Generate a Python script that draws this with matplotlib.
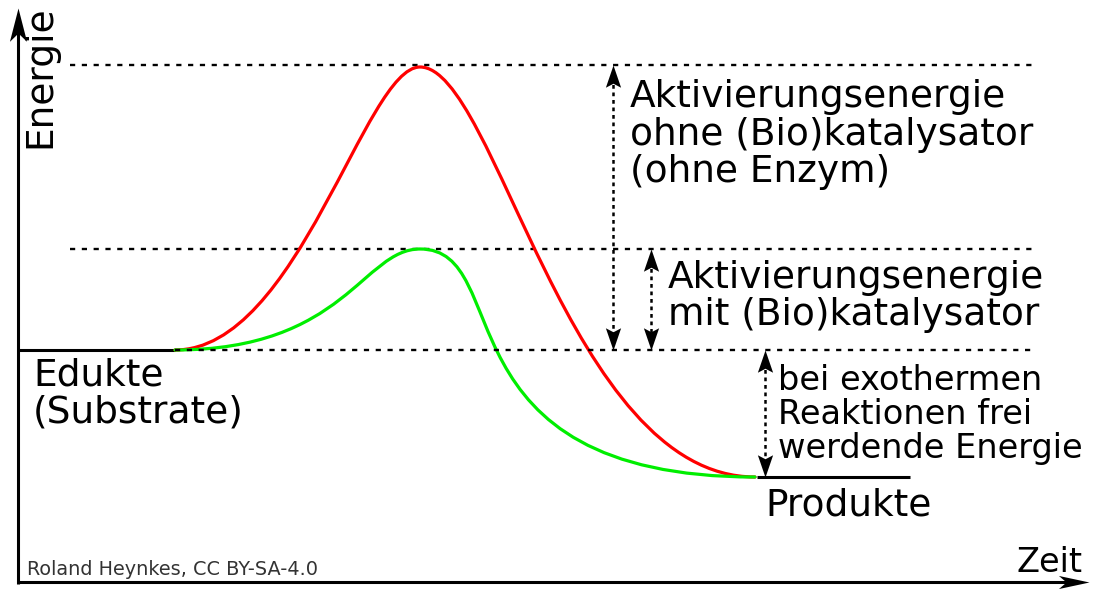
import matplotlib
matplotlib.use("Agg")
import matplotlib.pyplot as plt
from matplotlib.path import Path
from matplotlib.patches import PathPatch

# ---------------- data (diagram units, y grows downward like the picture) ----------------
E_EDUKTE = 350        # energy level of educts
E_TS_OHNE = 65        # transition state without catalyst
E_TS_MIT = 249        # transition state with catalyst
E_PRODUKTE = 477      # energy level of products

# reaction curves as cubic Bezier control points (start, c1, c2, peak, c1, c2, end)
red_x = [175, 298, 365, 420, 496, 568, 755]
red_y = [350, 350, 67, 67, 67, 477, 477]
green_x = [175, 345, 363, 420, 517, 433, 755]
green_y = [350, 350, 249, 249, 249, 477, 477]

# texts
label_ohne = ["Aktivierungsenergie", "ohne (Bio)katalysator", "(ohne Enzym)"]
label_mit = ["Aktivierungsenergie", "mit (Bio)katalysator"]
label_frei = ["bei exothermen", "Reaktionen frei", "werdende Energie"]
label_edukte = ["Edukte", "(Substrate)"]
label_produkte = "Produkte"
axis_y_label = "Energie"
axis_x_label = "Zeit"
credit = "Roland Heynkes, CC BY-SA-4.0"

# ---------------- figure ----------------
plt.rcParams['font.family'] = ['DejaVu Sans']
fig = plt.figure(figsize=(10.96, 5.89), dpi=100)
ax = fig.add_axes([0, 0, 1, 1])
ax.set_xlim(0, 1096)
ax.set_ylim(589, 0)
ax.axis('off')

BIG = 27.0
MID = 24.2


def head_path(direction, half_w, notch):
    # tip at (0,0), body behind; concave back (stealth style)
    pts = [(0, 0), (-half_w, -1.4), (0, -notch), (half_w, -1.4), (0, 0)]
    if direction == 'down':
        pts = [(x, -y) for x, y in pts]
    elif direction == 'right':
        pts = [(y, x) for x, y in pts]
    return Path(pts, [Path.MOVETO, Path.LINETO, Path.LINETO, Path.LINETO, Path.CLOSEPOLY])


dot_up = head_path('up', 0.48, 1.15)
dot_down = head_path('down', 0.48, 1.15)
ax_up = head_path('up', 0.36, 1.05)
ax_right = head_path('right', 0.30, 1.05)

# axes
X_AXIS_Y = 582
Y_AXIS_X = 18
ax.plot([Y_AXIS_X, Y_AXIS_X], [X_AXIS_Y + 1.5, 24], color='black', lw=2.2, solid_capstyle='butt')
ax.plot([Y_AXIS_X - 1.5, 1072], [X_AXIS_Y, X_AXIS_Y], color='black', lw=2.2, solid_capstyle='butt')
ax.plot([Y_AXIS_X], [8], marker=ax_up, markersize=48, color='black', mew=0, ls='none')
ax.plot([1089], [X_AXIS_Y], marker=ax_right, markersize=44, color='black', mew=0, ls='none')

# dotted level lines
DOT = dict(color='black', lw=1.7, dashes=(2.2, 2.8))
ax.plot([70, 1038], [E_TS_OHNE, E_TS_OHNE], **DOT)
ax.plot([70, 1038], [E_TS_MIT, E_TS_MIT], **DOT)
ax.plot([red_x[0], 1035], [E_EDUKTE, E_EDUKTE], zorder=4, **DOT)

# solid levels
ax.plot([Y_AXIS_X, red_x[0]], [E_EDUKTE, E_EDUKTE], color='black', lw=2.2, solid_capstyle='butt')
ax.plot([red_x[-1] + 2, 910], [E_PRODUKTE, E_PRODUKTE], color='black', lw=2.2, solid_capstyle='butt')

# curves
codes = [Path.MOVETO] + [Path.CURVE4] * 6
for xs, ys, col in [(red_x, red_y, '#ff0000'), (green_x, green_y, '#00ee00')]:
    p = Path(list(zip(xs, ys)), codes)
    ax.add_patch(PathPatch(p, fill=False, edgecolor=col, lw=2.3, capstyle='round', zorder=3))


# double arrows (dotted shaft, solid heads)
def double_arrow(x, y_top, y_bot):
    ax.plot([x, x], [y_top + 12, y_bot - 12], color='black', lw=1.8, dashes=(1.5, 1.5), zorder=4)
    ax.plot([x], [y_top], marker=dot_up, markersize=32, color='black', mew=0, ls='none', zorder=5)
    ax.plot([x], [y_bot], marker=dot_down, markersize=32, color='black', mew=0, ls='none', zorder=5)


double_arrow(613, E_TS_OHNE, E_EDUKTE)
double_arrow(651, E_TS_MIT, E_EDUKTE)
double_arrow(765, E_EDUKTE, E_PRODUKTE)


# texts (one line each, placed on its baseline)
def lines(x, baselines, texts, size):
    for b, t in zip(baselines, texts):
        ax.text(x, b, t, fontsize=size, ha='left', va='baseline', color='black')


lines(630, [107, 145, 182], label_ohne, BIG)
lines(668, [288, 325], label_mit, BIG)
lines(778, [390, 424, 458], label_frei, MID)
lines(33, [385, 422], label_edukte, BIG)
ax.text(765, 515, label_produkte, fontsize=BIG, ha='left', va='baseline')
ax.text(1017, 572, axis_x_label, fontsize=MID, ha='left', va='baseline')
ax.text(50, 148, axis_y_label, fontsize=BIG, rotation=90, rotation_mode='anchor',
        ha='left', va='baseline')
ax.text(27, 575, credit, fontsize=13.9, color='#333333', ha='left', va='baseline')

fig.savefig('out.png', dpi=100)
